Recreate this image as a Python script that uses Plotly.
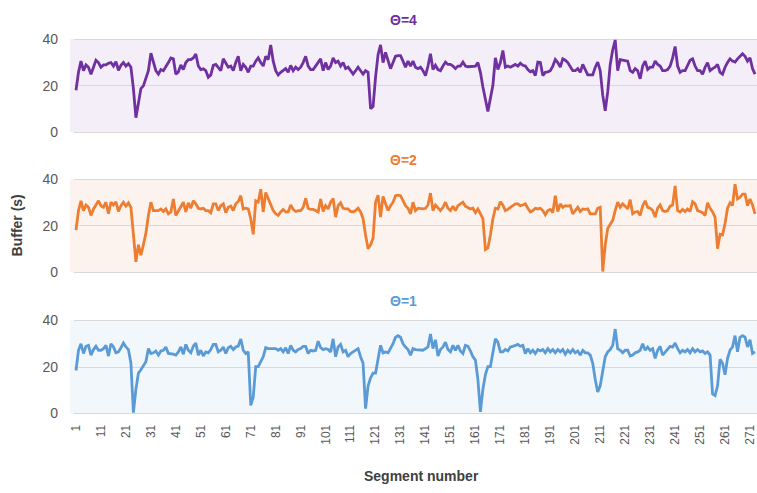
import plotly.graph_objects as go

segments = list(range(1, 274))

theta4 = [
    18.1, 25.8, 30.6, 26.5, 29.0, 28.0, 25.0, 28.5, 31.0, 30.0,
    28.0, 29.0, 29.0, 29.7, 30.0, 28.5, 30.4, 26.7, 28.8, 30.0,
    28.5, 29.5, 28.0, 18.8, 6.3, 12.5, 18.8, 20.0, 23.0, 26.5,
    34.0, 30.6, 26.5, 25.0, 27.0, 26.5, 28.0, 30.0, 32.0, 31.6,
    25.0, 26.0, 29.0, 27.0, 30.0, 31.3, 31.3, 32.0, 33.7, 28.5,
    27.0, 27.3, 26.5, 23.7, 24.7, 28.8, 29.2, 28.0, 26.5, 31.6,
    30.0, 28.0, 28.5, 26.5, 30.0, 32.7, 26.5, 29.2, 28.0, 25.8,
    28.5, 28.5, 30.6, 32.0, 30.0, 28.5, 32.7, 31.3, 37.6, 30.6,
    26.5, 24.7, 25.8, 26.5, 27.4, 25.8, 28.8, 26.5, 28.0, 27.0,
    28.0, 30.0, 32.7, 28.5, 27.0, 27.0, 28.5, 30.0, 31.6, 26.5,
    30.0, 27.0, 28.5, 32.0, 30.0, 30.6, 28.5, 30.0, 27.4, 28.0,
    26.5, 25.0, 26.5, 28.0, 26.5, 25.0, 26.5, 25.8, 10.2, 11.1,
    23.7, 33.4, 37.6, 30.0, 34.4, 30.6, 27.4, 30.0, 32.7, 33.0,
    33.0, 30.6, 28.0, 30.6, 28.5, 30.6, 28.0, 27.4, 28.0, 26.5,
    24.4, 28.5, 33.8, 27.0, 28.8, 27.0, 26.5, 28.5, 30.2, 29.2,
    29.2, 28.5, 27.4, 28.5, 28.5, 30.2, 28.5, 28.2, 28.2, 28.2,
    28.5, 30.0, 25.8, 19.5, 14.6, 9.0, 14.6, 20.2, 32.0, 27.0,
    30.0, 35.2, 28.0, 28.5, 28.0, 28.5, 29.2, 28.5, 29.7, 28.8,
    28.5, 27.0, 26.0, 26.5, 24.4, 30.2, 30.0, 24.4, 25.8, 26.0,
    26.5, 28.5, 31.3, 30.0, 28.0, 31.6, 31.0, 30.0, 28.5, 26.5,
    26.5, 27.4, 25.8, 29.2, 27.0, 24.7, 24.7, 24.7, 28.0, 30.2,
    26.5, 16.0, 9.3, 17.4, 29.2, 35.5, 39.7, 26.5, 31.3, 31.0,
    31.0, 30.6, 26.5, 25.8, 27.4, 26.5, 23.0, 28.5, 30.6, 27.0,
    28.0, 28.0, 30.6, 29.2, 28.5, 26.5, 26.5, 27.0, 28.5, 32.0,
    36.9, 28.5, 25.8, 26.5, 26.5, 28.5, 31.0, 31.6, 28.5, 26.5,
    26.5, 25.0, 28.0, 30.0, 26.5, 27.4, 28.0, 29.2, 25.8, 25.0,
    28.0, 30.0, 31.6, 30.6, 30.2, 31.6, 32.7, 33.8, 32.7, 30.6,
    32.0, 27.4, 25.0,
]

theta2 = [
    18.2, 26.6, 30.8, 26.6, 29.0, 28.0, 24.5, 27.3, 29.0, 30.8,
    28.7, 28.0, 30.2, 25.2, 30.2, 29.0, 30.4, 26.2, 28.7, 30.2,
    28.5, 29.9, 28.0, 16.1, 4.6, 11.9, 7.4, 11.9, 16.8, 24.5,
    30.2, 26.6, 26.6, 26.6, 27.3, 26.2, 27.3, 25.2, 26.0, 31.6,
    24.5, 26.6, 28.7, 30.2, 26.0, 29.9, 27.6, 30.8, 29.5, 27.6,
    27.3, 27.6, 26.6, 26.6, 25.7, 29.5, 29.5, 26.6, 28.7, 29.5,
    25.7, 28.0, 28.5, 26.6, 29.5, 30.5, 33.0, 27.3, 27.6, 27.3,
    23.1, 16.4, 30.8, 30.2, 35.8, 26.0, 34.4, 31.6, 28.7, 26.6,
    25.2, 24.5, 26.0, 27.1, 26.0, 26.0, 29.0, 27.1, 26.2, 26.6,
    26.6, 28.0, 31.8, 27.6, 27.1, 27.1, 26.6, 26.0, 31.6, 26.2,
    28.7, 27.3, 30.2, 31.8, 23.8, 28.7, 29.9, 27.6, 27.3, 27.3,
    26.2, 26.0, 26.6, 27.6, 26.0, 23.1, 16.1, 10.2, 11.9, 14.7,
    30.2, 33.2, 23.8, 32.7, 29.5, 26.6, 28.7, 30.2, 33.0, 33.2,
    33.0, 30.8, 28.7, 27.6, 25.2, 30.2, 26.6, 27.6, 27.3, 27.3,
    27.6, 29.0, 34.1, 26.6, 29.0, 28.0, 26.6, 28.0, 30.2, 27.6,
    26.6, 28.5, 26.6, 28.7, 29.5, 30.2, 28.5, 28.0, 27.3, 27.6,
    25.7, 27.3, 25.2, 23.1, 9.8, 10.5, 16.1, 23.1, 27.6, 27.3,
    30.4, 29.0, 26.6, 27.1, 28.0, 28.7, 29.5, 29.5, 28.7, 29.0,
    29.5, 27.6, 26.0, 26.6, 27.6, 27.3, 27.6, 26.6, 24.8, 26.6,
    27.1, 25.7, 33.0, 26.2, 29.5, 28.0, 28.7, 28.5, 28.7, 25.2,
    26.6, 28.0, 26.2, 27.3, 27.1, 27.3, 25.2, 25.2, 25.2, 27.6,
    28.0, 0.4, 11.9, 18.9, 21.0, 22.4, 26.6, 30.2, 28.0, 29.5,
    28.5, 27.3, 31.3, 25.2, 26.0, 26.2, 24.5, 28.7, 30.8, 28.0,
    27.6, 26.6, 23.8, 27.6, 29.0, 26.6, 26.2, 26.6, 28.5, 29.0,
    37.2, 26.6, 26.0, 27.1, 26.2, 27.3, 26.2, 30.4, 29.5, 26.6,
    26.2, 25.7, 24.5, 29.9, 27.6, 26.0, 23.8, 10.2, 16.4, 16.1,
    21.0, 27.6, 29.9, 28.7, 37.9, 31.6, 32.3, 33.7, 33.7, 28.7,
    31.6, 29.0, 25.2,
]

theta1 = [
    18.5, 27.2, 30.0, 25.8, 28.9, 29.3, 25.1, 27.5, 28.9, 27.2,
    27.2, 27.9, 29.3, 24.7, 30.0, 28.6, 26.1, 26.5, 28.3, 30.3,
    28.6, 27.5, 21.6, 0.4, 10.5, 17.4, 18.8, 20.9, 22.3, 27.9,
    25.8, 26.1, 26.9, 25.1, 26.9, 27.2, 28.6, 25.8, 25.8, 25.5,
    25.1, 26.5, 28.6, 25.5, 29.7, 27.2, 26.1, 28.9, 30.3, 25.1,
    27.2, 24.7, 26.5, 26.1, 27.5, 29.7, 29.7, 26.5, 27.2, 28.6,
    25.8, 28.3, 28.9, 27.5, 28.6, 29.0, 32.0, 27.2, 25.8, 26.5,
    3.5, 7.0, 20.2, 20.2, 22.3, 24.4, 28.3, 27.9, 27.9, 27.9,
    27.9, 27.2, 27.9, 26.5, 28.3, 25.8, 29.3, 27.2, 26.5, 27.5,
    27.9, 28.9, 28.9, 25.8, 27.2, 26.9, 27.2, 31.1, 28.3, 27.5,
    27.9, 27.5, 26.5, 32.1, 24.4, 28.6, 29.7, 26.5, 27.2, 24.4,
    25.8, 26.5, 27.2, 27.9, 24.4, 21.6, 2.1, 11.9, 15.3, 17.4,
    17.4, 24.4, 29.3, 26.1, 26.5, 26.1, 27.9, 30.0, 32.8, 33.5,
    32.8, 30.0, 28.6, 27.5, 25.1, 27.9, 27.5, 27.5, 27.5, 27.2,
    27.9, 28.6, 34.2, 27.9, 31.7, 24.7, 27.5, 28.6, 30.7, 27.5,
    26.5, 29.3, 27.2, 29.3, 26.9, 25.8, 29.3, 28.9, 26.9, 24.4,
    23.0, 14.6, 0.7, 10.5, 16.7, 20.2, 20.2, 25.8, 32.1, 30.7,
    26.5, 26.5, 27.5, 26.9, 28.6, 28.9, 29.3, 29.7, 28.9, 29.3,
    25.8, 27.9, 26.1, 27.2, 25.8, 27.5, 26.9, 27.5, 26.1, 27.9,
    26.5, 27.5, 26.1, 27.5, 26.5, 27.5, 25.5, 27.2, 26.1, 27.5,
    26.1, 26.9, 25.1, 27.2, 26.1, 26.1, 25.1, 21.6, 14.6, 9.3,
    11.9, 17.4, 24.4, 26.5, 27.5, 29.3, 36.3, 27.9, 27.2, 26.1,
    27.2, 27.2, 24.7, 25.1, 26.1, 26.5, 27.2, 30.0, 27.2, 28.6,
    27.2, 27.9, 23.7, 27.2, 28.9, 25.1, 26.5, 27.5, 28.9, 28.6,
    30.3, 27.9, 26.1, 27.2, 26.5, 27.5, 26.1, 27.9, 26.5, 27.5,
    26.5, 26.9, 25.8, 26.5, 25.1, 8.4, 7.7, 11.9, 23.3, 21.6,
    16.7, 23.7, 27.2, 28.6, 33.5, 26.5, 32.8, 33.5, 32.8, 28.6,
    31.7, 25.8, 26.5,
]

panel_titles = ["Θ=4", "Θ=2", "Θ=1"]
x_tick_vals = list(range(1, 274, 10))
y_tick_vals = [0, 20, 40]

W, H = 757, 493
L = 74
colors = ["#7030A0", "#ED7D31", "#5B9BD5"]
bgs = ["#F3EEF8", "#FDF3EE", "#F2F7FC"]
# pixel positions of value 40 and value 0 for each panel
panel_px = [(35, 130), (178, 273), (322, 417)]
pad = 1.2  # y-units of padding beyond [0,40]

def dom(top40, bot0):
    ppu = (bot0 - top40) / 40.0
    top = top40 - pad * ppu
    bot = bot0 + pad * ppu
    return [1 - bot / H, 1 - top / H]

fig = go.Figure()
series = [theta4, theta2, theta1]
yaxes = ["y", "y2", "y3"]
for i, (vals, ya) in enumerate(zip(series, yaxes)):
    fig.add_trace(go.Scatter(x=segments, y=vals, mode="lines",
                             line=dict(color=colors[i], width=2.8),
                             xaxis="x", yaxis=ya, showlegend=False,
                             hoverinfo="x+y"))
    fig.add_shape(type="rect", xref="paper", x0=-0.006, x1=1,
                  yref=ya, y0=0, y1=40, fillcolor=bgs[i],
                  line=dict(width=0), layer="below")

layout = dict(
    width=W, height=H,
    margin=dict(l=L, r=0, t=0, b=0),
    paper_bgcolor="white", plot_bgcolor="rgba(0,0,0,0)",
    font=dict(family="Liberation Sans, Arial, sans-serif", color="#595959"),
    xaxis=dict(domain=[0, 1], anchor="y3", range=[0.2, 273.8],
               tickvals=x_tick_vals, ticktext=[str(v) for v in x_tick_vals],
               tickangle=-90, tickfont=dict(size=12, color="#595959"),
               showgrid=False, zeroline=False, showline=False, ticks="",
               ticklabelstandoff=5),
)
for i, ya in enumerate(yaxes):
    key = "yaxis" if i == 0 else f"yaxis{i+1}"
    layout[key] = dict(domain=dom(*panel_px[i]), anchor="x",
                       range=[-pad, 40 + pad], tickvals=y_tick_vals,
                       tickfont=dict(size=14, color="#595959"),
                       showgrid=True, gridcolor="#D9D9D9", gridwidth=1,
                       zeroline=False, showline=False, ticks="",
                       ticklabelstandoff=15)
fig.update_layout(**layout)

title_y_px = [15, 158, 302]
for i, t in enumerate(panel_titles):
    fig.add_annotation(text=f"<b>{t}</b>", xref="paper", yref="paper",
                       x=(403 - L) / (W - L), y=1 - title_y_px[i] / H,
                       showarrow=False, font=dict(size=14, color=colors[i]),
                       xanchor="center", yanchor="middle")

fig.add_annotation(text="<b>Buffer (s)</b>", xref="paper", yref="paper",
                   x=(17 - L) / (W - L), y=1 - 225 / H, textangle=-90,
                   showarrow=False, font=dict(size=14, color="#404040"),
                   xanchor="center", yanchor="middle")
fig.add_annotation(text="<b>Segment number</b>", xref="paper", yref="paper",
                   x=(421 - L) / (W - L), y=1 - 481 / H,
                   showarrow=False, font=dict(size=14, color="#404040"),
                   xanchor="center", yanchor="middle")

fig.write_html("out.html")
